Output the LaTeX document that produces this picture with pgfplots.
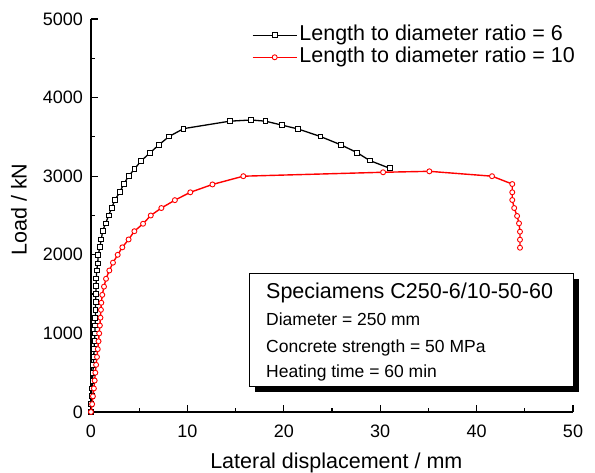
\documentclass[border=0pt]{standalone}
\usepackage{fontspec}
\setmainfont{Liberation Sans}
\usepackage{pgfplots}
\pgfplotsset{compat=1.18}

\begin{document}
\begin{tikzpicture}
\begin{axis}[
    scale only axis,
    width=482bp, height=393bp,
    xmin=0, xmax=50, ymin=0, ymax=5000,
    axis lines*=left,
    axis line style={line width=1.6bp,-},
    xtick={0,10,...,50}, ytick={0,1000,...,5000},
    minor x tick num=1, minor y tick num=1,
    tick align=inside,
    major tick length=7bp, minor tick length=4bp,
    every tick/.style={black,line width=1.2bp},
    tick label style={font=\fontsize{18bp}{21bp}\selectfont,inner sep=0pt},
    xticklabel style={yshift=-13bp},
    yticklabel style={xshift=-8bp},
    /pgf/number format/assume math mode=true,
    /pgf/number format/1000 sep={},
    xlabel={Lateral displacement / mm},
    ylabel={Load / kN},
    every axis x label/.style={at={(axis description cs:0.509,-0.1425)},anchor=base,
        font=\fontsize{21.5bp}{25bp}\selectfont},
    every axis y label/.style={at={(axis description cs:-0.1334,0.515)},rotate=90,anchor=base,
        font=\fontsize{21.5bp}{25bp}\selectfont},
    clip=false,
    legend style={draw=none,fill=none,
        at={(axis description cs:0.334,0.984)},anchor=north west,
        inner sep=0pt,outer sep=0pt,row sep=2bp,column sep=2bp,
        font=\fontsize{21.5bp}{25bp}\selectfont,
        nodes={inner sep=0pt,text height=15.5bp,text depth=4.5bp}},
    legend cell align=left,
    legend image code/.code={
        \draw[mark repeat=2,mark phase=2,#1]
            plot coordinates {(0bp,0bp) (22bp,0bp) (44bp,0bp)};},
]

% L/D = 6
\addplot[black,line width=1.3bp,mark=square*,mark size=2.4bp,
         mark options={fill=white,draw=black,line width=0.9bp}]
    coordinates {
        (0,0) (0.03,100) (0.06,200) (0.1,300) (0.15,400) (0.2,500)
        (0.24,600) (0.28,700) (0.32,800) (0.36,900) (0.4,1000)
        (0.43,1100) (0.45,1200) (0.47,1300) (0.48,1400) (0.5,1500)
        (0.52,1600) (0.55,1700) (0.59,1800) (0.69,1890) (0.76,1995)
        (0.9,2095) (1.07,2195) (1.21,2305) (1.52,2400) (1.83,2500)
        (2.15,2600) (2.5,2700) (2.97,2795) (3.4,2900) (3.9,3000)
        (4.5,3090) (5.2,3195) (6.15,3300) (7.05,3400) (8.1,3505)
        (9.6,3605) (14.4,3700) (16.6,3715) (18.1,3700) (19.8,3650)
        (21.5,3600) (23.8,3505) (25.9,3400) (27.6,3300) (28.9,3200)
        (31.0,3100)
    };
\addlegendentry{Length to diameter ratio = 6}

% L/D = 10
\addplot[red,line width=1.4bp,mark=*,mark size=2.5bp,
         mark options={fill=white,draw=red,line width=0.9bp}]
    coordinates {
        (0,0) (0.12,100) (0.2,200) (0.3,300) (0.38,400) (0.45,500)
        (0.53,600) (0.62,700) (0.7,800) (0.78,900) (0.85,1000)
        (0.92,1100) (0.98,1200) (1.03,1300) (1.07,1390) (1.17,1490)
        (1.35,1595) (1.56,1695) (1.9,1800) (2.28,1900) (2.77,2000)
        (3.25,2095) (3.9,2195) (4.5,2300) (5.4,2395) (6.2,2500)
        (7.3,2595) (8.7,2695) (10.3,2795) (12.6,2895) (15.8,3000)
        (30.3,3050) (35.1,3062) (41.6,3000) (43.7,2900) (43.7,2795)
        (43.7,2697) (43.9,2595) (44.2,2494) (44.4,2400) (44.5,2294)
        (44.5,2192) (44.5,2090)
    };
\addlegendentry{Length to diameter ratio = 10}
\end{axis}

\begin{scope}[x=1bp,y=1bp]
    % text box with drop shadow
    \fill[black] (164,20) rectangle (488,133);
    \draw[fill=white,line width=0.8bp] (158,26) rectangle (482,139);
    \node[anchor=base west,inner sep=0pt,font=\fontsize{21.5bp}{25bp}\selectfont]
        at (175,113.7) {Speciamens C250-6/10-50-60};
    \node[anchor=base west,inner sep=0pt,font=\fontsize{17.5bp}{21bp}\selectfont]
        at (175,86) {Diameter = 250 mm};
    \node[anchor=base west,inner sep=0pt,font=\fontsize{17.5bp}{21bp}\selectfont]
        at (175,59.3) {Concrete strength = 50 MPa};
    \node[anchor=base west,inner sep=0pt,font=\fontsize{17.5bp}{21bp}\selectfont]
        at (175,34.7) {Heating time = 60 min};
    \pgfresetboundingbox
    \path (-91,-61) rectangle (504,412);
\end{scope}
\end{tikzpicture}
\end{document}
